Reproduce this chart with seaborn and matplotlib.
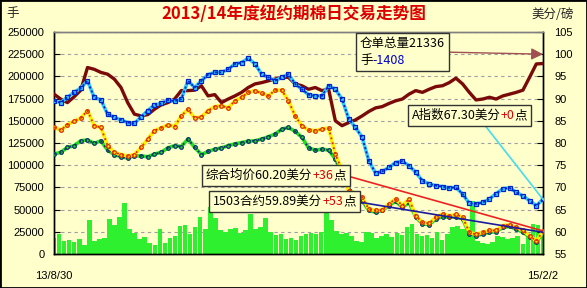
import numpy as np
import pandas as pd
import matplotlib
matplotlib.use("Agg")
import matplotlib.pyplot as plt
import matplotlib.dates as mdates
import seaborn as sns
from matplotlib.offsetbox import TextArea, HPacker, VPacker, AnnotationBbox
from matplotlib.patches import Rectangle

# ---------------- data ----------------
start_date, end_date = "2013-08-30", "2015-02-02"
x_labels = ["13/8/30", "15/2/2"]
title = "2013/14年度纽约期棉日交易走势图"

# A index (cents/lb)
a_index = [89.5, 89.1, 90.3, 91.4, 92.4, 94.0, 90.3, 89.7, 86.5, 85.8,
           85.2, 84.6, 84.4, 85.9, 87.3, 88.6, 88.9, 89.7, 89.4, 89.9,
           94.0, 92.5, 94.0, 95.4, 95.9, 95.9, 96.6, 97.8, 98.1, 99.1,
           97.8, 95.5, 94.8, 94.0, 94.8, 95.5, 93.3, 92.1, 90.9, 90.6,
           90.6, 92.9, 92.1, 89.9, 85.4, 83.5, 81.3, 76.0, 73.2, 73.6,
           74.5, 75.6, 75.9, 74.9, 73.4, 71.5, 70.8, 70.4, 70.2, 69.9,
           70.0, 68.5, 66.4, 66.3, 66.6, 67.4, 68.6, 69.7, 69.9, 68.9,
           68.1, 67.0, 65.9, 67.3]
# composite average price (cents/lb)
composite = [83.5, 82.9, 84.1, 84.9, 85.6, 87.3, 83.9, 83.5, 79.4, 77.9,
             77.4, 77.1, 77.4, 79.0, 80.9, 82.8, 83.4, 84.1, 83.7, 86.1,
             87.6, 85.6, 85.9, 87.3, 88.2, 88.4, 87.9, 89.5, 90.3, 91.4,
             91.8, 91.2, 90.6, 91.9, 91.9, 89.5, 86.1, 83.9, 82.9, 82.8,
             83.1, 83.4, 77.5, 73.8, 69.1, 68.7, 67.8, 65.1, 64.8, 64.9,
             66.3, 67.4, 65.9, 67.4, 63.6, 62.1, 61.9, 63.3, 64.0, 63.6,
             63.9, 63.3, 59.9, 59.4, 59.9, 60.3, 60.3, 61.4, 61.6, 61.0,
             60.3, 59.1, 57.9, 60.2]
# 1503 contract (cents/lb)
c1503 = [77.5, 77.9, 79.0, 79.4, 80.5, 80.7, 79.9, 80.5, 78.4, 77.4,
         76.9, 76.6, 77.1, 77.1, 76.9, 77.5, 77.9, 78.9, 79.4, 79.2,
         80.9, 79.0, 77.4, 78.1, 78.6, 78.9, 79.4, 79.8, 80.1, 80.4,
         80.5, 80.9, 81.4, 82.0, 83.1, 83.5, 82.6, 81.3, 78.9, 78.4,
         78.6, 78.4, 76.4, 73.0, 69.4, 68.5, 67.0, 64.8, 64.4, 64.8,
         65.9, 66.9, 65.5, 66.6, 63.3, 61.8, 61.6, 62.9, 63.4, 63.3,
         63.4, 62.9, 59.5, 59.1, 59.5, 59.9, 60.0, 61.0, 61.2, 60.6,
         59.9, 58.8, 57.6, 59.89]
# certificated stocks (drawn on the price scale)
stocks = [91.0, 89.9, 89.1, 90.4, 91.9, 97.0, 96.6, 95.9, 95.5, 94.4,
          92.5, 89.1, 86.5, 86.1, 86.4, 87.6, 88.6, 89.1, 89.9, 91.8,
          91.8, 91.9, 92.9, 90.6, 90.9, 89.1, 89.9, 90.6, 91.4, 92.5,
          93.3, 93.6, 94.0, 94.4, 94.8, 94.8, 93.3, 92.9, 92.1, 92.5,
          91.8, 92.1, 85.0, 83.9, 84.6, 85.2, 86.1, 87.1, 87.9, 88.2,
          88.9, 89.5, 89.9, 91.0, 91.8, 91.4, 92.1, 92.7, 92.9, 93.6,
          94.6, 93.3, 91.4, 89.7, 89.9, 90.3, 89.9, 90.6, 91.0, 91.4,
          91.9, 94.8, 97.8, 97.9]
# daily volume (lots)
volume = [18000, 22000, 15000, 16000, 14000, 17000, 10000, 38000, 15000, 17000,
          18000, 39000, 33000, 42000, 57000, 28000, 24000, 17000, 19000, 12000,
          10000, 28000, 12000, 18000, 20000, 32000, 33000, 22000, 30000, 42000,
          28000, 53000, 40000, 27000, 25000, 28000, 29000, 24000, 27000, 45000,
          28000, 30000, 40000, 25000, 21000, 22000, 17000, 18000, 16000, 20000,
          23000, 24000, 22000, 25000, 46000, 38000, 26000, 22000, 24000, 20000,
          15000, 14000, 25000, 24000, 18000, 20000, 22000, 19000, 24000, 21000,
          30000, 34000, 22000, 20000, 21000, 18000, 25000, 16000, 22000, 30000,
          32000, 28000, 30000, 60000, 15000, 12000, 11000, 14000, 20000, 19000,
          17000, 18000, 20000, 11000, 24000, 34000, 33000, 27000]

vol_ticks = list(range(0, 250001, 25000))
price_ticks = list(range(55, 106, 5))

# ---------------- style ----------------
sns.set_style("white")
plt.rcParams["font.family"] = ["Liberation Sans", "Noto Sans CJK SC", "DejaVu Sans"]
cjk = ["Noto Sans CJK SC", "DejaVu Sans"]
BG = "#FFFFCC"

W, H = 587, 288
fig = plt.figure(figsize=(W / 100, H / 100), dpi=100, facecolor=BG)
L, R, T, B = 54, 543, 32, 254
ax = fig.add_axes([L / W, 1 - B / H, (R - L) / W, (B - T) / H])
ax.set_facecolor(BG)
ax2 = ax.twinx()

dates = pd.date_range(start_date, end_date, periods=len(a_index))
vdates = pd.date_range(start_date, end_date, periods=len(volume))

# volume bars
ax.bar(vdates, volume, width=4.9, color="#2EF02E", linewidth=0, zorder=2)
ax.set_ylim(0, 250000)
ax.set_yticks(vol_ticks)
ax.set_yticklabels([str(v) for v in vol_ticks])
ax.yaxis.grid(True, linestyle=(0, (3, 3)), color="#A0A0A0", linewidth=0.8)
ax.set_axisbelow(True)
ax.set_xlim(dates[0], dates[-1])
ax.set_xticks([dates[0], dates[-1]])
ax.set_xticklabels(x_labels)

# price lines: a thick coloured line, small edged markers and a dotted texture on top
def series(vals, line_c, dot_c, marker, ms, z, lw=2.6, dash=(0, (1, 1.6))):
    sns.lineplot(x=dates, y=vals, ax=ax2, color=line_c, linewidth=lw,
                 marker=marker, markersize=ms, mfc=line_c, mec=dot_c, mew=0.9, zorder=z)
    sns.lineplot(x=dates, y=vals, ax=ax2, color=dot_c, linewidth=1.3,
                 linestyle=dash, zorder=z + 0.1)

sns.lineplot(x=dates, y=stocks, ax=ax2, color="#7A0A0A", linewidth=2.4, zorder=3)
series(c1503, "#22DD22", "#103070", "o", 2.6, 4, dash=(0, (1, 2.2)))
series(composite, "#FFEE00", "#E02800", "o", 2.6, 5, dash=(0, (1, 1.8)))
series(a_index, "#33CCFF", "#0022CC", "s", 2.8, 6, dash=(0, (1.2, 1.2)))
ax2.set_ylim(55, 105)
ax2.set_yticks(price_ticks)
ax2.set_yticklabels([str(v) for v in price_ticks])
ax2.set_xlim(dates[0], dates[-1])

for a in (ax, ax2):
    a.set_xlabel("")
    a.set_ylabel("")
    for s in ("left", "right", "bottom"):
        a.spines[s].set_color("black")
        a.spines[s].set_linewidth(1)
    a.spines["top"].set_color("#808080")
    a.spines["top"].set_linewidth(1)
ax.tick_params(axis="y", direction="in", length=4, pad=7, labelsize=8, colors="black")
ax.tick_params(axis="x", length=0, pad=12, labelsize=8, colors="black")
ax2.tick_params(axis="y", direction="in", length=4, pad=8, labelsize=8, colors="black")

# ---------------- annotations ----------------
def label_box(lines, xy, xycoords, left, top, relpos, lcolor, style="-", lw=1.2):
    rows = []
    for parts in lines:
        rows.append(HPacker(children=[TextArea(t, textprops=dict(color=c, fontsize=9, family=cjk))
                                      for t, c in parts], align="baseline", pad=0, sep=0))
    box = VPacker(children=rows, align="left", pad=0, sep=3) if len(rows) > 1 else rows[0]
    ab = AnnotationBbox(box, xy, xycoords=xycoords, xybox=(left, H - top),
                        boxcoords="figure pixels", box_alignment=(0, 1), pad=0.3,
                        frameon=True, bboxprops=dict(fc=BG, ec="#333333", lw=1),
                        arrowprops=dict(arrowstyle=style, color=lcolor, lw=lw,
                                        relpos=relpos, shrinkA=0, shrinkB=0),
                        zorder=8)
    ax2.add_artist(ab)

xe = mdates.date2num(dates[-1])
label_box([[("仓单总量21336", "black")], [("手", "black"), ("-1408", "#0000CC")]],
          (1.0, 100), ("axes fraction", "data"), 360, 37, (1, 0.5), "#A05050",
          style="-|>,head_length=0.5,head_width=0.25", lw=1.0)
label_box([[("A指数67.30美分", "black"), ("+0", "#DD0000"), ("点", "black")]],
          (xe, a_index[-1]), "data", 412, 109, (0.61, 0), "#44DDEE")
label_box([[("综合均价60.20美分", "black"), ("+36", "#DD0000"), ("点", "black")]],
          (xe, composite[-1]), "data", 206, 169, (1, 0.5), "#EE2222")
label_box([[("1503合约59.89美分", "black"), ("+53", "#DD0000"), ("点", "black")]],
          (xe, c1503[-1]), "data", 213, 195, (1, 0.5), "#1A1AA0")

# ---------------- figure texts ----------------
fig.text(0.5, 1 - 14 / H, title, ha="center", va="center", color="#DD0000",
         fontsize=12, fontweight="bold", family=cjk)
fig.text(13 / W, 1 - 14 / H, "手", ha="center", va="center", fontsize=9, family=cjk)
fig.text(553 / W, 1 - 14 / H, "美分/磅", ha="center", va="center", fontsize=9, family=cjk)
fig.patches.append(Rectangle((0, 0), 1, 1, transform=fig.transFigure, fill=False,
                             ec="black", lw=2))

fig.savefig("out.png", dpi=100, facecolor=BG)
